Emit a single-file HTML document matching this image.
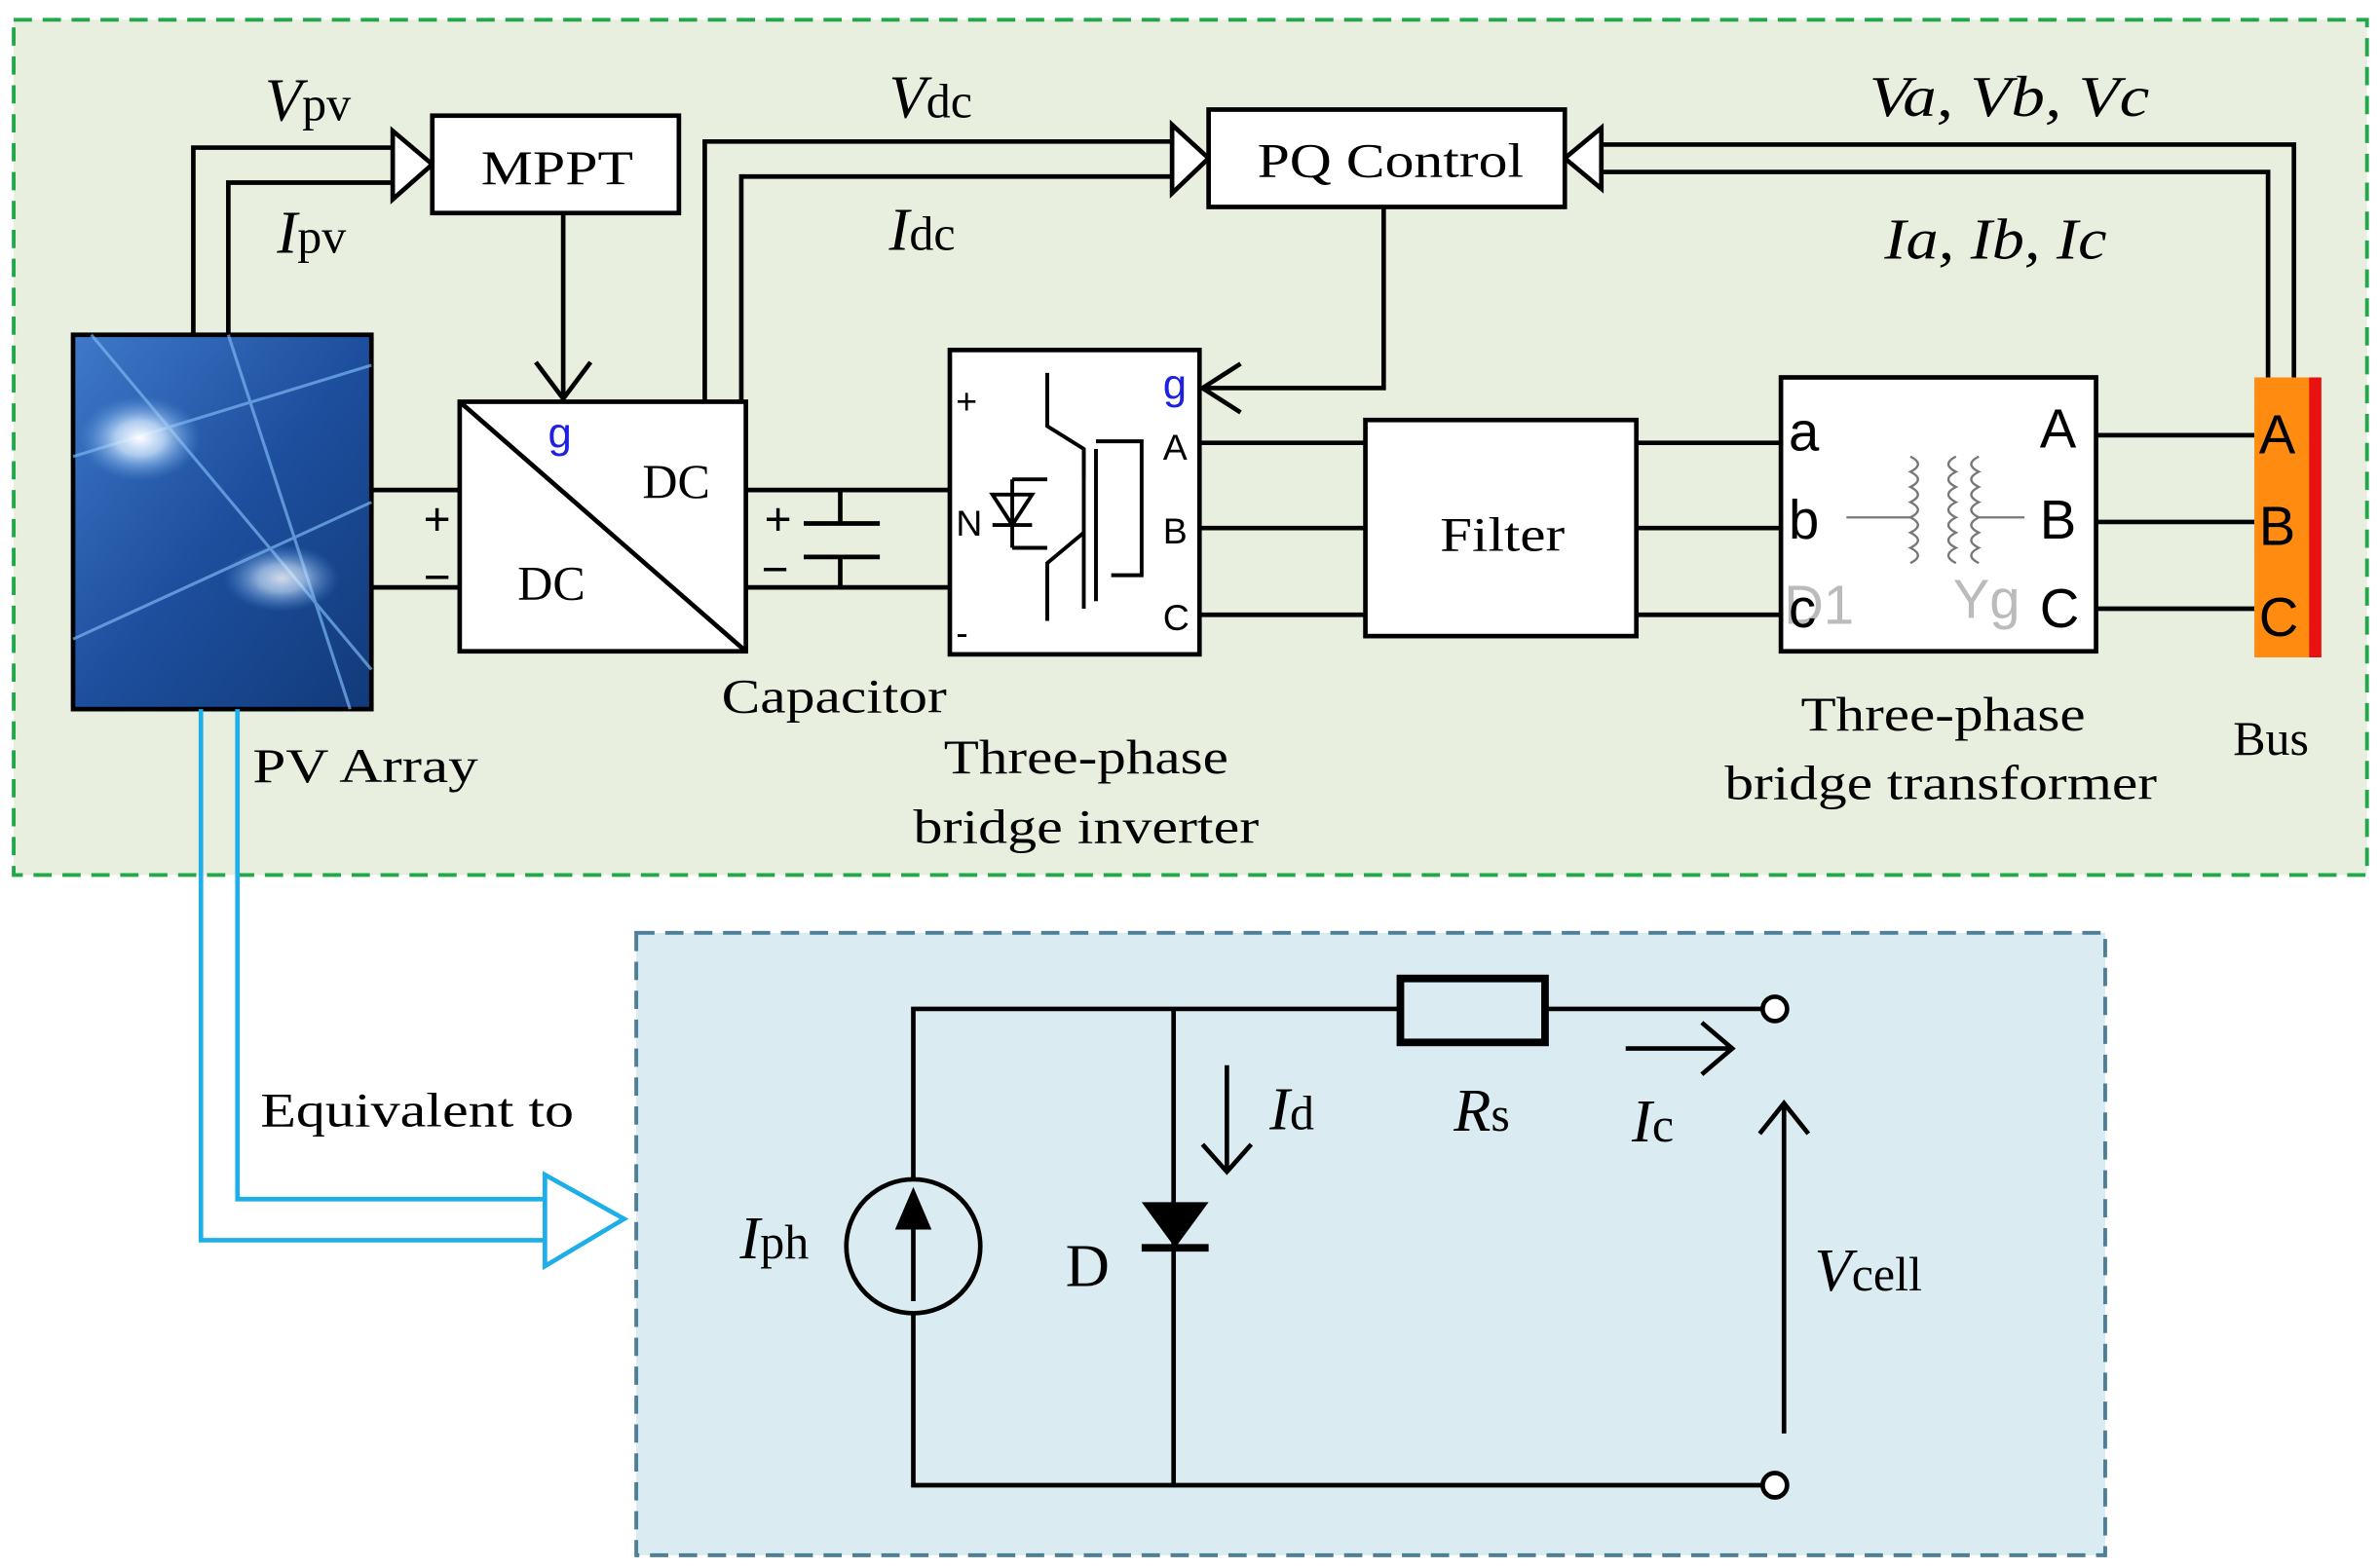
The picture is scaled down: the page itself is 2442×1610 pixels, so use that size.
<!DOCTYPE html>
<html><head><meta charset="utf-8"><style>
html,body{margin:0;padding:0;background:#fff;}
svg{display:block;}
text{font-family:"Liberation Serif",serif;fill:#000;}
.s{font-family:"Liberation Sans","DejaVu Sans",sans-serif;}
</style></head><body>
<svg width="2442" height="1610" viewBox="0 0 1562.88 1030.4" xmlns="http://www.w3.org/2000/svg">
<defs>
<linearGradient id="pv" x1="0" y1="0" x2="1" y2="1">
<stop offset="0" stop-color="#3f79c8"/><stop offset="0.5" stop-color="#1d4f9e"/><stop offset="1" stop-color="#123a7a"/>
</linearGradient>
<radialGradient id="gl" cx="0.5" cy="0.5" r="0.5"><stop offset="0" stop-color="#fff"/><stop offset="0.4" stop-color="#cfe6ff" stop-opacity="0.8"/><stop offset="1" stop-color="#5fa0e8" stop-opacity="0"/></radialGradient>
</defs>
<rect x="9" y="13" width="1546" height="562" fill="#e8efdf" stroke="#22a84a" stroke-width="2.5" stroke-dasharray="12,7"/>
<rect x="418" y="613" width="965" height="409" fill="#daebf1" stroke="#4d7f96" stroke-width="2.5" stroke-dasharray="12,7"/>

<g stroke="#000" stroke-width="3" fill="none">
<polyline points="127,220 127,97 258,97"/>
<polyline points="150,220 150,120 258,120"/>
<polygon points="258,86 284,108 258,131" fill="#fff"/>
<polyline points="463,264 463,93 770,93"/>
<polyline points="487,264 487,116 770,116"/>
<polygon points="770,82 794,104 770,127" fill="#fff"/>
<polyline points="1507,248 1507,95 1052,95"/>
<polyline points="1490,248 1490,113 1052,113"/>
<polygon points="1052,84 1028,104 1052,124" fill="#fff"/>
<line x1="370" y1="140" x2="370" y2="262"/>
<polyline points="352,238 370,262 388,238"/>
<polyline points="909,136 909,255 790,255"/>
<polyline points="815,239 790,255 815,271"/>
<line x1="244" y1="322" x2="302" y2="322"/>
<line x1="244" y1="386" x2="302" y2="386"/>
<line x1="490" y1="322" x2="624" y2="322"/>
<line x1="490" y1="386" x2="624" y2="386"/>
<line x1="552" y1="322" x2="552" y2="344"/>
<line x1="552" y1="366" x2="552" y2="386"/>
<line x1="528" y1="344" x2="578" y2="344"/>
<line x1="528" y1="366" x2="578" y2="366"/>
<line x1="788" y1="291" x2="897" y2="291"/>
<line x1="788" y1="347" x2="897" y2="347"/>
<line x1="788" y1="404" x2="897" y2="404"/>
<line x1="1075" y1="291" x2="1170" y2="291"/>
<line x1="1075" y1="347" x2="1170" y2="347"/>
<line x1="1075" y1="404" x2="1170" y2="404"/>
<line x1="1377" y1="286" x2="1481" y2="286"/>
<line x1="1377" y1="343" x2="1481" y2="343"/>
<line x1="1377" y1="400" x2="1481" y2="400"/>
</g>

<rect x="48" y="220" width="196" height="246" fill="url(#pv)" stroke="#000" stroke-width="3"/>
<g stroke="#7ab6f2" stroke-width="2" opacity="0.7">
<line x1="48" y1="300" x2="244" y2="240"/><line x1="60" y1="220" x2="244" y2="440"/>
<line x1="48" y1="420" x2="244" y2="330"/><line x1="150" y1="220" x2="230" y2="466"/>
</g>
<ellipse cx="92" cy="288" rx="40" ry="28" fill="url(#gl)"/>
<ellipse cx="185" cy="380" rx="38" ry="22" fill="url(#gl)" opacity="0.8"/>

<g stroke="#000" stroke-width="3" fill="#fff">
<rect x="284" y="76" width="162" height="64"/>
<rect x="794" y="72" width="234" height="64"/>
<rect x="302" y="264" width="188" height="164"/>
<rect x="624" y="230" width="164" height="200"/>
<rect x="897" y="276" width="178" height="142"/>
<rect x="1170" y="248" width="207" height="180"/>
</g>
<line x1="302" y1="264" x2="490" y2="428" stroke="#000" stroke-width="3"/>
<rect x="1481" y="248" width="44" height="184" fill="#ff8c10"/>
<rect x="1517" y="248" width="8" height="184" fill="#e81010"/>

<g stroke="#000" stroke-width="2.5" fill="none">
<polyline points="688,245 688,280 712,295 712,315"/>
<line x1="712" y1="295" x2="712" y2="400"/>
<line x1="720" y1="295" x2="720" y2="395"/>
<polyline points="720,290 750,290 750,378 730,378"/>
<polyline points="712,350 688,370 688,408"/>
<line x1="665" y1="315" x2="665" y2="360"/>
<polygon points="652,325 678,325 665,345" />
<line x1="652" y1="345" x2="678" y2="345"/>
<line x1="665" y1="315" x2="688" y2="315"/>
<line x1="665" y1="360" x2="688" y2="360"/>
</g>
<g stroke="#777" stroke-width="1.5" fill="none">
<line x1="1213" y1="340" x2="1255" y2="340"/>
<path d="M1255,300 q10,5 0,10 q10,5 0,10 q10,5 0,10 q10,5 0,10 q10,5 0,10 q10,5 0,10 q10,5 0,10"/>
<path d="M1285,300 q-10,5 0,10 q-10,5 0,10 q-10,5 0,10 q-10,5 0,10 q-10,5 0,10 q-10,5 0,10 q-10,5 0,10"/>
<path d="M1300,300 q-10,5 0,10 q-10,5 0,10 q-10,5 0,10 q-10,5 0,10 q-10,5 0,10 q-10,5 0,10 q-10,5 0,10"/>
<line x1="1300" y1="340" x2="1330" y2="340"/>
</g>

<g font-size="32">
<text x="316" y="121" textLength="100" lengthAdjust="spacingAndGlyphs">MPPT</text>
<text x="826" y="116" textLength="175" lengthAdjust="spacingAndGlyphs">PQ Control</text>
<text x="422" y="327">DC</text>
<text x="340" y="394">DC</text>
<text x="946" y="362" textLength="82" lengthAdjust="spacingAndGlyphs">Filter</text>
<text x="474" y="468" textLength="148" lengthAdjust="spacingAndGlyphs">Capacitor</text>
<text x="166" y="514" textLength="148" lengthAdjust="spacingAndGlyphs">PV Array</text>
<text x="620" y="508" textLength="187" lengthAdjust="spacingAndGlyphs">Three-phase</text>
<text x="600" y="554" textLength="227" lengthAdjust="spacingAndGlyphs">bridge inverter</text>
<text x="1183" y="480" textLength="187" lengthAdjust="spacingAndGlyphs">Three-phase</text>
<text x="1133" y="525" textLength="284" lengthAdjust="spacingAndGlyphs">bridge transformer</text>
<text x="1467" y="496">Bus</text>
<text x="171" y="740" textLength="206" lengthAdjust="spacingAndGlyphs">Equivalent to</text>
<text x="174" y="79" font-size="40"><tspan font-style="italic">V</tspan><tspan font-size="32">pv</tspan></text>
<text x="182" y="166" font-size="40"><tspan font-style="italic">I</tspan><tspan font-size="32">pv</tspan></text>
<text x="584" y="77" font-size="40"><tspan font-style="italic">V</tspan><tspan font-size="32">dc</tspan></text>
<text x="584" y="164" font-size="40"><tspan font-style="italic">I</tspan><tspan font-size="32">dc</tspan></text>
<text x="1228" y="76" font-size="38" font-style="italic" textLength="184" lengthAdjust="spacingAndGlyphs">Va, Vb, Vc</text>
<text x="1238" y="170" font-size="38" font-style="italic" textLength="146" lengthAdjust="spacingAndGlyphs">Ia, Ib, Ic</text>
<text x="278" y="352" font-family="Liberation Sans" font-weight="bold">+</text>
<text x="278" y="390" font-family="Liberation Sans" font-weight="bold">−</text>
<text x="502" y="352" font-family="Liberation Sans" font-weight="bold">+</text>
<text x="500" y="385" font-family="Liberation Sans" font-weight="bold">−</text>
</g>
<g class="s">
<text x="360" y="294" font-size="28" style="fill:#2020e0" class="s">g</text>
<text x="764" y="262" font-size="28" style="fill:#2020e0" class="s">g</text>
<text x="628" y="272" font-size="24" class="s">+</text>
<text x="628" y="424" font-size="24" class="s">-</text>
<text x="628" y="352" font-size="24" class="s">N</text>
<text x="764" y="302" font-size="24" class="s">A</text>
<text x="764" y="357" font-size="24" class="s">B</text>
<text x="764" y="414" font-size="24" class="s">C</text>
<text x="1175" y="296" font-size="36" class="s">a</text>
<text x="1175" y="354" font-size="36" class="s">b</text>
<text x="1172" y="410" font-size="36" class="s" style="fill:#bbb">D1</text>
<text x="1175" y="412" font-size="36" class="s">c</text>
<text x="1283" y="406" font-size="36" class="s" style="fill:#bbb">Yg</text>
<text x="1340" y="294" font-size="36" class="s">A</text>
<text x="1340" y="354" font-size="36" class="s">B</text>
<text x="1340" y="412" font-size="36" class="s">C</text>
<text x="1484" y="298" font-size="36" class="s">A</text>
<text x="1484" y="358" font-size="36" class="s">B</text>
<text x="1484" y="418" font-size="36" class="s">C</text>
</g>

<g stroke="#1eaee8" stroke-width="3" fill="none">
<polyline points="132,466 132,815 358,815"/>
<polyline points="156,466 156,788 358,788"/>
<polygon points="358,772 410,801 358,832" fill="#fff"/>
</g>

<g stroke="#000" stroke-width="3" fill="none">
<polyline points="920,663 600,663 600,776"/>
<polyline points="600,862 600,976 1158,976"/>
<line x1="1015" y1="663" x2="1158" y2="663"/>
<circle cx="1166" cy="663" r="8" fill="#fff"/>
<circle cx="1166" cy="976" r="8" fill="#fff"/>
<rect x="920" y="643" width="95" height="42" stroke-width="5"/>
<circle cx="600" cy="819" r="44"/>
<line x1="600" y1="855" x2="600" y2="800"/>
<line x1="771" y1="663" x2="771" y2="976"/>
<line x1="750" y1="820" x2="794" y2="820" stroke-width="5"/>
<line x1="806" y1="700" x2="806" y2="770"/>
<polyline points="790,752 806,770 822,752"/>
<line x1="1068" y1="689" x2="1138" y2="689"/>
<polyline points="1118,672 1138,689 1118,706"/>
<line x1="1172" y1="725" x2="1172" y2="942"/>
<polyline points="1156,745 1172,725 1188,745"/>
</g>
<polygon points="750,790 794,790 772,820" fill="#000"/>
<polygon points="600,780 588,808 612,808" fill="#000"/>
<g font-size="40">
<text x="486" y="827"><tspan font-style="italic">I</tspan><tspan font-size="32">ph</tspan></text>
<text x="700" y="845">D</text>
<text x="834" y="742"><tspan font-style="italic">I</tspan><tspan font-size="32">d</tspan></text>
<text x="955" y="743"><tspan font-style="italic">R</tspan><tspan font-size="32">s</tspan></text>
<text x="1072" y="750"><tspan font-style="italic">I</tspan><tspan font-size="32">c</tspan></text>
<text x="1192" y="848"><tspan font-style="italic">V</tspan><tspan font-size="32">cell</tspan></text>
</g>
</svg>
</body></html>
